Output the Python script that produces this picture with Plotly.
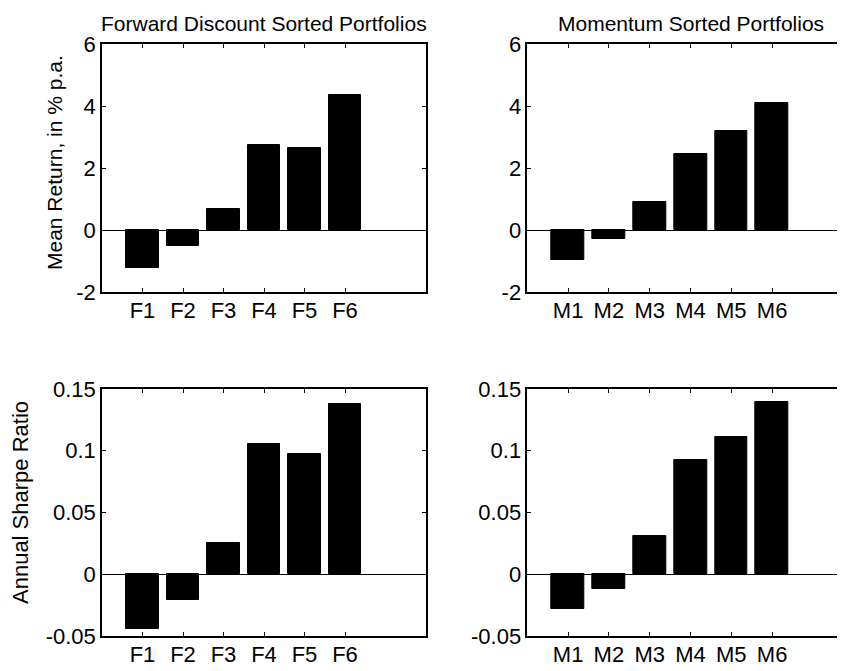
import plotly.graph_objects as go

W, H = 845, 671

fwd_labels = ["F1", "F2", "F3", "F4", "F5", "F6"]
mom_labels = ["M1", "M2", "M3", "M4", "M5", "M6"]
positions = [1, 2, 3, 4, 5, 6]

fwd_mean = [-1.24, -0.51, 0.68, 2.75, 2.64, 4.37]
mom_mean = [-0.96, -0.30, 0.91, 2.46, 3.20, 4.09]
fwd_sharpe = [-0.044, -0.0205, 0.0254, 0.1057, 0.0973, 0.138]
mom_sharpe = [-0.0285, -0.0121, 0.0312, 0.0925, 0.1108, 0.1398]

titles = ["Forward Discount Sorted Portfolios", "Momentum Sorted Portfolios"]
ylabels = ["Mean Return, in % p.a.", "Annual Sharpe Ratio"]
mean_ticks = [-2, 0, 2, 4, 6]
sharpe_ticks = [-0.05, 0, 0.05, 0.1, 0.15]
sharpe_ticktext = ["-0.05", "0", "0.05", "0.1", "0.15"]

FONT = "Liberation Sans, Arial, sans-serif"
FS = 22

# page offset (body margin) compensation
OFF = 8

# pixel geometry (screen coordinates)
LX = (102, 426)
RX = (527.3, 845)
TOPY = (44, 292)
BOTY = (389, 636)

def px_x(a):
    return (a - OFF) / W

def px_y(a):
    return (H - (a - OFF)) / H

fig = go.Figure()

panels = [
    ("x", "y", fwd_mean),
    ("x2", "y2", mom_mean),
    ("x3", "y3", fwd_sharpe),
    ("x4", "y4", mom_sharpe),
]
for xa, ya, vals in panels:
    fig.add_trace(go.Bar(
        x=positions, y=vals, width=0.8, xaxis=xa, yaxis=ya,
        marker=dict(color="black", line=dict(color="black", width=1)),
        showlegend=False, hoverinfo="skip",
    ))

def xaxis_cfg(dom, rng, labs, anchor):
    return dict(
        domain=dom, range=rng, tickvals=positions, ticktext=labs, anchor=anchor,
        ticks="inside", ticklen=4, tickwidth=1, tickcolor="black",
        showline=True, linecolor="black", linewidth=1.5, mirror="ticks",
        showgrid=False, zeroline=False, automargin=False,
        tickfont=dict(family=FONT, size=FS, color="black"),
        fixedrange=True, ticklabelstandoff=-2,
    )

def yaxis_cfg(dom, rng, tv, tt, anchor, mirror):
    return dict(
        domain=dom, range=rng, tickvals=tv, ticktext=tt, anchor=anchor,
        ticks="inside", ticklen=4, tickwidth=1, tickcolor="black",
        showline=True, linecolor="black", linewidth=1.5, mirror=mirror,
        showgrid=False, zeroline=True, zerolinecolor="black", zerolinewidth=1.2,
        automargin=False,
        tickfont=dict(family=FONT, size=FS, color="black"),
        fixedrange=True,
    )

xdomL = [px_x(LX[0]), px_x(LX[1])]
xdomR = [px_x(RX[0]), px_x(RX[1])]
ydomT = [px_y(TOPY[1]), px_y(TOPY[0])]
ydomB = [px_y(BOTY[1]), px_y(BOTY[0])]
spacing = 40.8
rR = [0, (RX[1] - RX[0]) / spacing]

fig.update_layout(
    width=W, height=H,
    margin=dict(l=0, r=0, t=0, b=0, pad=0, autoexpand=False),
    paper_bgcolor="white", plot_bgcolor="white",
    template="none",
    bargap=0,
    xaxis=xaxis_cfg(xdomL, [0, 8], fwd_labels, "y"),
    xaxis2=xaxis_cfg(xdomR, rR, mom_labels, "y2"),
    xaxis3=xaxis_cfg(xdomL, [0, 8], fwd_labels, "y3"),
    xaxis4=xaxis_cfg(xdomR, rR, mom_labels, "y4"),
    yaxis=yaxis_cfg(ydomT, [-2, 6], mean_ticks, [str(v) for v in mean_ticks], "x", "ticks"),
    yaxis2=yaxis_cfg(ydomT, [-2, 6], mean_ticks, [str(v) for v in mean_ticks], "x2", False),
    yaxis3=yaxis_cfg(ydomB, [-0.05, 0.15], sharpe_ticks, sharpe_ticktext, "x3", "ticks"),
    yaxis4=yaxis_cfg(ydomB, [-0.05, 0.15], sharpe_ticks, sharpe_ticktext, "x4", False),
)

anns = [
    dict(text=titles[0], x=px_x((LX[0] + LX[1]) / 2), y=px_y(23), size=FS - 1),
    dict(text=titles[1], x=px_x(RX[0] + 4 * spacing), y=px_y(23), size=FS - 1),
    dict(text=ylabels[0], x=px_x(54), y=px_y(163), textangle=-90, size=FS - 1),
    dict(text=ylabels[1], x=px_x(21), y=px_y(503), textangle=-90, size=FS),
]
for a in anns:
    size = a.pop("size")
    fig.add_annotation(xref="paper", yref="paper", showarrow=False,
                       xanchor="center", yanchor="middle",
                       font=dict(family=FONT, size=size, color="black"), **a)

fig.write_html("out.html")
